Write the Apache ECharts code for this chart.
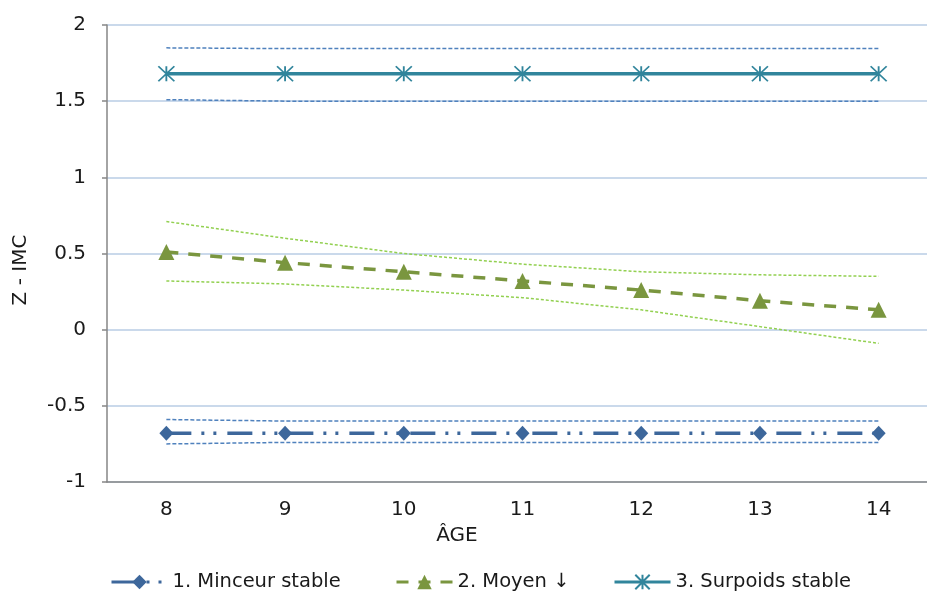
<!DOCTYPE html>
<html>
<head>
<meta charset="utf-8">
<script src="https://cdn.jsdelivr.net/npm/echarts@6/dist/echarts.min.js"></script>
<style>html,body{margin:0;padding:0;background:#fff;}#c{width:927px;height:594px;}</style>
</head>
<body>
<div id="c"></div>
<script>
const ages = ['8','9','10','11','12','13','14'];
const yTicks = [-1, -0.5, 0, 0.5, 1, 1.5, 2];

const minceur = [-0.68, -0.68, -0.68, -0.68, -0.68, -0.68, -0.68];
const minceurHaut = [-0.59, -0.60, -0.60, -0.60, -0.60, -0.60, -0.60];
const minceurBas = [-0.75, -0.74, -0.74, -0.74, -0.74, -0.74, -0.74];

const moyen = [0.51, 0.44, 0.38, 0.32, 0.26, 0.19, 0.13];
const moyenHaut = [0.71, 0.60, 0.50, 0.43, 0.38, 0.36, 0.35];
const moyenBas = [0.32, 0.30, 0.26, 0.21, 0.13, 0.02, -0.09];

const surpoids = [1.68, 1.68, 1.68, 1.68, 1.68, 1.68, 1.68];
const surpoidsHaut = [1.85, 1.845, 1.845, 1.845, 1.845, 1.845, 1.845];
const surpoidsBas = [1.51, 1.50, 1.50, 1.50, 1.50, 1.50, 1.50];

const names = ['1. Minceur stable', '2. Moyen \u2193', '3. Surpoids stable'];

const FONT = 'DejaVu Sans';
const chart = echarts.init(document.getElementById('c'), null, {renderer: 'canvas'});

function ci(data, color, dash) {
  return {
    type: 'line', data: data, symbol: 'none', silent: true, z: 1,
    lineStyle: {color: color, width: 1.5, type: dash}
  };
}
function leg(name, left) {
  return {
    data: [name], left: left, top: 572, itemWidth: 56, itemHeight: 18, padding: 0,
    lineStyle: {width: 3},
    textStyle: {fontSize: 19.5, color: '#1a1a1a', fontFamily: FONT}
  };
}

chart.setOption({
  animation: false,
  textStyle: {fontFamily: FONT},
  grid: {left: 107, top: 25, width: 831, height: 457, containLabel: false, outerBoundsMode: 'none'},
  xAxis: {
    type: 'category', data: ages, boundaryGap: true,
    axisLine: {onZero: false, lineStyle: {color: '#868686', width: 1.5}},
    axisTick: {inside: true, length: 7, lineStyle: {color: '#868686', width: 1.5}},
    axisLabel: {color: '#1a1a1a', fontSize: 20, margin: 18, fontFamily: FONT},
    splitLine: {show: false}
  },
  yAxis: {
    type: 'value', min: yTicks[0], max: yTicks[yTicks.length - 1], interval: 0.5,
    axisLine: {show: true, lineStyle: {color: '#868686', width: 1.5}},
    axisTick: {show: true, length: 5, lineStyle: {color: '#868686', width: 1.5}},
    axisLabel: {color: '#1a1a1a', fontSize: 20, margin: 21, fontFamily: FONT},
    splitLine: {lineStyle: {color: '#B9CDE5', width: 1.5}}
  },
  legend: [leg(names[0], 110), leg(names[1], 395), leg(names[2], 613)],
  graphic: [
    {type: 'text', x: 457, y: 536, style: {text: '\u00C2GE', font: '20px "DejaVu Sans"', fill: '#1a1a1a', textAlign: 'center', textVerticalAlign: 'middle'}},
    {type: 'text', x: 21, y: 270, rotation: Math.PI / 2, style: {text: 'Z - IMC', font: '20px "DejaVu Sans"', fill: '#1a1a1a', textAlign: 'center', textVerticalAlign: 'middle'}}
  ],
  series: [
    ci(minceurHaut, '#4F81BD', [4, 2]),
    ci(minceurBas, '#4F81BD', [4, 2]),
    ci(moyenHaut, '#92D050', [3, 2]),
    ci(moyenBas, '#92D050', [3, 2]),
    ci(surpoidsHaut, '#4F81BD', [4, 2]),
    ci(surpoidsBas, '#4F81BD', [4, 2]),
    {
      name: names[0], type: 'line', data: minceur, z: 3,
      symbol: 'diamond', symbolSize: [14, 15],
      itemStyle: {color: '#3D679B'},
      lineStyle: {color: '#3D679B', width: 3.5, type: [25, 10, 3, 9, 3, 11]}
    },
    {
      name: names[1], type: 'line', data: moyen, z: 3,
      symbol: 'triangle', symbolSize: [16, 16],
      itemStyle: {color: '#7A963F'},
      lineStyle: {color: '#7A963F', width: 3.5, type: [12, 10]}
    },
    {
      name: names[2], type: 'line', data: surpoids, z: 3,
      symbol: 'path://M0,0L10,10M10,0L0,10M5,0L5,10', symbolSize: [16, 15],
      itemStyle: {color: '#31859C', borderColor: '#31859C', borderWidth: 1.8},
      lineStyle: {color: '#31859C', width: 3.5, type: 'solid'}
    }
  ]
});
</script>
</body>
</html>
